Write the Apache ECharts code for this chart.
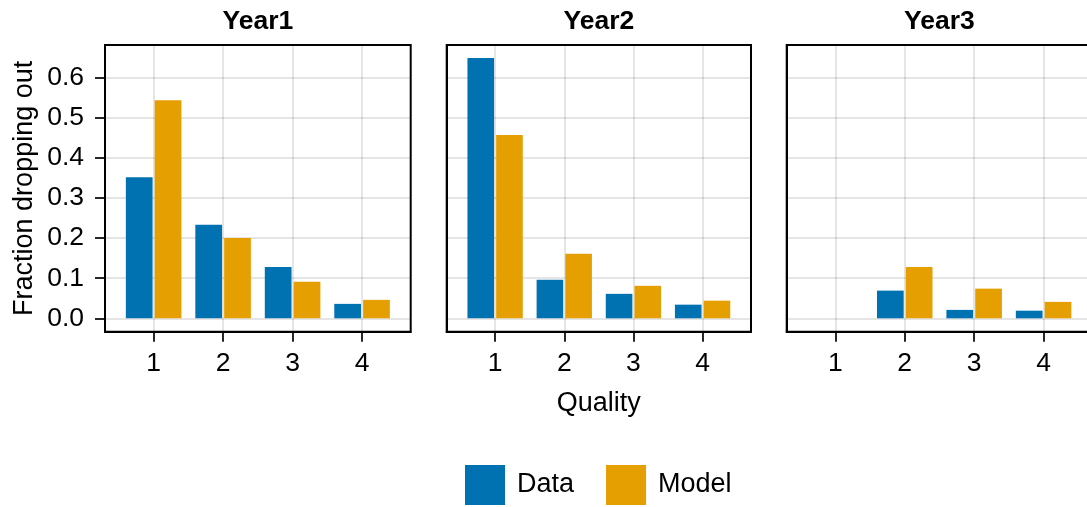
<!DOCTYPE html>
<html>
<head>
<meta charset="utf-8">
<script src="https://cdn.jsdelivr.net/npm/echarts@6/dist/echarts.min.js"></script>
<style>
  html, body { margin: 0; padding: 0; background: #fff; }
  #chart { width: 1087px; height: 507px; }
</style>
</head>
<body>
<div id="chart"></div>
<script>
// Dropout fraction by quality level, observed vs. model, for each year
const years = ['Year1', 'Year2', 'Year3'];
const qualities = [1, 2, 3, 4];
const yTicks = [0, 0.1, 0.2, 0.3, 0.4, 0.5, 0.6];

const dataYear1 = [0.352, 0.233, 0.128, 0.036];
const modelYear1 = [0.544, 0.200, 0.091, 0.046];
const dataYear2 = [0.649, 0.096, 0.061, 0.034];
const modelYear2 = [0.457, 0.161, 0.081, 0.044];
const dataYear3 = [null, 0.069, 0.021, 0.019];
const modelYear3 = [null, 0.128, 0.074, 0.041];

const dataByYear = [dataYear1, dataYear2, dataYear3];
const modelByYear = [modelYear1, modelYear2, modelYear3];

const BLUE = '#0072b2';
const ORANGE = '#e69f00';
const FONT = '"Liberation Sans", Arial, Helvetica, sans-serif';
const GRID_LINE = { color: 'rgba(0,0,0,0.1)', width: 2 };
const SPINE = { color: '#000', width: 2 };
const TICK = { color: '#000', width: 1.7 };

// panel rectangles (pixels); the last one runs past the right edge
const panels = [
  { left: 105, width: 305.7 },
  { left: 446.7, width: 304.3 },
  { left: 786.7, width: 305.5 }
];
const PANEL_TOP = 45;
const PANEL_H = 286.7;

// dodged bars: total width 0.8 per category, small gap between the pair
const BAR_W = 0.385;
const DODGE = 0.2075;

function makeRender(offset) {
  return function (params, api) {
    const x = api.value(0);
    const y = api.value(1);
    if (y == null || isNaN(y)) return null;
    const p0 = api.coord([x + offset - BAR_W / 2, 0]);
    const p1 = api.coord([x + offset + BAR_W / 2, y]);
    return {
      type: 'rect',
      shape: { x: p0[0], y: p1[1], width: p1[0] - p0[0], height: p0[1] - p1[1] },
      style: api.style()
    };
  };
}

const grids = [], xAxes = [], yAxes = [], series = [], graphics = [];

panels.forEach((p, i) => {
  grids.push({
    left: p.left, top: PANEL_TOP, width: p.width, height: PANEL_H,
    outerBoundsMode: 'none',
    show: true, borderColor: '#000', borderWidth: 2, backgroundColor: 'transparent'
  });
  xAxes.push({
    type: 'value', gridIndex: i, min: 0.3, max: 4.7,
    axisLine: { show: true, onZero: false, lineStyle: SPINE },
    axisTick: { show: true, length: 10, customValues: qualities, lineStyle: TICK },
    axisLabel: { customValues: qualities, margin: 18, fontSize: 26.5, color: '#000', fontFamily: FONT },
    splitLine: { show: true, lineStyle: GRID_LINE },
    name: i === 1 ? 'Quality' : '',
    nameLocation: 'middle', nameGap: 58,
    nameTextStyle: { fontSize: 27, color: '#000', fontFamily: FONT }
  });
  yAxes.push({
    type: 'value', gridIndex: i, min: -0.0334, max: 0.6815,
    axisLine: { show: true, onZero: false, lineStyle: SPINE },
    axisTick: { show: i === 0, length: 10, customValues: yTicks, lineStyle: TICK },
    axisLabel: {
      show: i === 0, customValues: yTicks, margin: 21, fontSize: 26.5, color: '#000', fontFamily: FONT,
      formatter: v => v.toFixed(1)
    },
    splitLine: { show: true, lineStyle: GRID_LINE },
    name: i === 0 ? 'Fraction dropping out' : '',
    nameLocation: 'middle', nameGap: 67,
    nameTextStyle: { fontSize: 27, color: '#000', fontFamily: FONT }
  });
  series.push({
    name: 'Data', type: 'custom', xAxisIndex: i, yAxisIndex: i,
    itemStyle: { color: BLUE },
    encode: { x: 0, y: 1 },
    renderItem: makeRender(-DODGE),
    data: qualities.map((q, k) => [q, dataByYear[i][k]])
  });
  series.push({
    name: 'Model', type: 'custom', xAxisIndex: i, yAxisIndex: i,
    itemStyle: { color: ORANGE },
    encode: { x: 0, y: 1 },
    renderItem: makeRender(DODGE),
    data: qualities.map((q, k) => [q, modelByYear[i][k]])
  });
  graphics.push({
    type: 'text', x: p.left + p.width / 2, y: 22,
    style: {
      text: years[i], fill: '#000', font: 'bold 26.5px ' + FONT,
      align: 'center', verticalAlign: 'middle'
    }
  });
});

const chart = echarts.init(document.getElementById('chart'), null, { renderer: 'canvas' });
chart.setOption({
  animation: false,
  backgroundColor: '#fff',
  grid: grids,
  xAxis: xAxes,
  yAxis: yAxes,
  series: series,
  graphic: graphics,
  legend: {
    data: ['Data', 'Model'],
    left: 460, top: 460,
    icon: 'rect', itemWidth: 40, itemHeight: 40, itemGap: 32,
    textStyle: { fontSize: 27, color: '#000', fontFamily: FONT, padding: [12, 0, 0, 7] }
  }
});
</script>
</body>
</html>
